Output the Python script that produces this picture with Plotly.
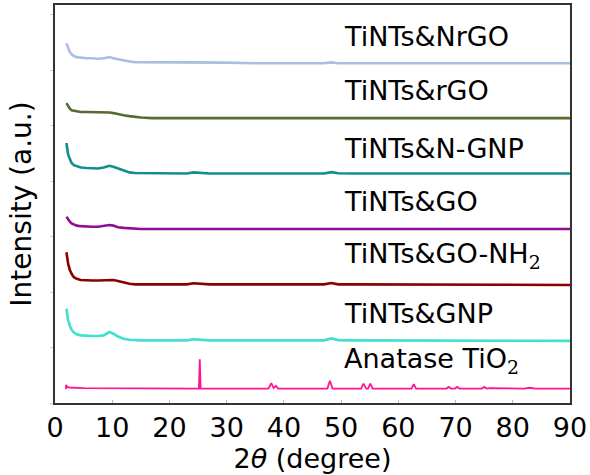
import plotly.graph_objects as go

# Shared 2-theta grid (degrees) for the TiNTs composite patterns
two_theta = [2.0, 2.3, 2.6, 2.9, 3.3, 3.8, 4.5, 5.5, 6.5, 7.5, 8.5, 9.5, 10.2, 11.0,
             12.0, 13.0, 14.0, 15.0, 17.0, 20.0, 23.0, 24.2, 25.5, 27.0, 30.0, 35.0,
             40.0, 45.0, 47.0, 48.3, 49.5, 52.0, 60.0, 70.0, 80.0, 90.0]

# Stacked intensities (a.u., offset per sample)
nrgo = [6.49, 6.40, 6.33, 6.29, 6.26, 6.24, 6.23, 6.22, 6.22, 6.21, 6.22, 6.24, 6.22, 6.20,
        6.18, 6.16, 6.15, 6.15, 6.14, 6.14, 6.14, 6.145, 6.14, 6.14, 6.14, 6.13,
        6.13, 6.13, 6.13, 6.145, 6.13, 6.13, 6.13, 6.13, 6.13, 6.13]
rgo = [5.41, 5.35, 5.31, 5.28, 5.27, 5.26, 5.25, 5.25, 5.25, 5.25, 5.245, 5.24, 5.23, 5.21,
       5.19, 5.175, 5.16, 5.15, 5.14, 5.14, 5.14, 5.145, 5.14, 5.14, 5.14, 5.14,
       5.14, 5.14, 5.14, 5.15, 5.14, 5.14, 5.14, 5.14, 5.14, 5.14]
n_gnp = [4.69, 4.48, 4.40, 4.33, 4.29, 4.27, 4.25, 4.24, 4.23, 4.23, 4.25, 4.28, 4.26, 4.23,
         4.19, 4.16, 4.15, 4.15, 4.14, 4.14, 4.14, 4.16, 4.145, 4.14, 4.14, 4.14,
         4.14, 4.14, 4.14, 4.165, 4.145, 4.14, 4.14, 4.14, 4.14, 4.14]
go_ = [3.36, 3.31, 3.27, 3.24, 3.22, 3.20, 3.19, 3.18, 3.18, 3.18, 3.19, 3.21, 3.20, 3.17,
       3.16, 3.15, 3.15, 3.14, 3.14, 3.14, 3.14, 3.145, 3.14, 3.14, 3.14, 3.14,
       3.14, 3.14, 3.14, 3.15, 3.14, 3.14, 3.14, 3.14, 3.14, 3.14]
go_nh2 = [2.72, 2.51, 2.40, 2.33, 2.27, 2.24, 2.22, 2.21, 2.21, 2.21, 2.21, 2.22, 2.22, 2.20,
          2.17, 2.15, 2.14, 2.14, 2.14, 2.14, 2.14, 2.16, 2.145, 2.14, 2.14, 2.14,
          2.14, 2.14, 2.14, 2.165, 2.14, 2.14, 2.14, 2.14, 2.13, 2.13]
gnp = [1.70, 1.49, 1.39, 1.32, 1.27, 1.24, 1.22, 1.21, 1.21, 1.21, 1.22, 1.28, 1.25, 1.20,
       1.16, 1.14, 1.13, 1.13, 1.13, 1.13, 1.13, 1.15, 1.135, 1.13, 1.13, 1.13,
       1.13, 1.13, 1.13, 1.165, 1.135, 1.13, 1.13, 1.13, 1.12, 1.12]

# Anatase TiO2 reference pattern
anatase_x = [1.9, 1.95, 2.1, 2.5, 5, 10, 15, 20, 25.15, 25.3, 25.45, 30,
             37.3, 37.8, 38.2, 38.6, 39.0, 47.6, 48.05, 48.5,
             53.5, 53.9, 54.4, 54.7, 55.1, 55.5, 62.3, 62.7, 63.1,
             68.4, 68.8, 69.2, 69.9, 70.3, 70.7, 74.6, 75.0, 75.4, 76.0,
             82.0, 82.9, 84.0, 90.0]
anatase_y = [0.25, 0.33, 0.29, 0.28, 0.27, 0.27, 0.265, 0.26, 0.26, 0.79, 0.26, 0.26,
             0.26, 0.36, 0.27, 0.31, 0.26, 0.26, 0.40, 0.26,
             0.26, 0.35, 0.26, 0.26, 0.35, 0.26, 0.26, 0.34, 0.26,
             0.26, 0.29, 0.26, 0.26, 0.29, 0.26, 0.26, 0.29, 0.26, 0.27,
             0.26, 0.275, 0.26, 0.26]

SUB2 = "<sub><span style=\"font-family:'DejaVu Serif'\">2</span></sub>"

names = ["TiNTs&NrGO", "TiNTs&rGO", "TiNTs&N-GNP", "TiNTs&GO",
         "TiNTs&GO-NH" + SUB2, "TiNTs&GNP"]
series = [nrgo, rgo, n_gnp, go_, go_nh2, gnp]
colors = ["#a9bfdf", "#556b2f", "#128f8c", "#8e0f94", "#8b0000", "#40e0d0"]
label_x = 50.1
label_y = [6.61, 5.64, 4.60, 3.64, 2.66, 1.62, 0.77]

fig = go.Figure()
for ys, c in zip(series, colors):
    fig.add_trace(go.Scatter(x=two_theta, y=ys, mode="lines",
                             line=dict(color=c, width=2.6), showlegend=False))
fig.add_trace(go.Scatter(x=anatase_x, y=anatase_y, mode="lines",
                         line=dict(color="#ff1493", width=1.8), showlegend=False))

font = "DejaVu Sans"
for text, yv in zip(names + ["Anatase TiO" + SUB2], label_y):
    fig.add_annotation(x=label_x, y=yv, xref="x", yref="y", text=text,
                       showarrow=False, xanchor="left", yanchor="middle",
                       font=dict(family=font, size=27, color="black"))

fig.update_layout(
    width=590, height=475,
    margin=dict(l=55, r=18, t=3, b=72),
    plot_bgcolor="white", paper_bgcolor="white",
    font=dict(family=font, size=27, color="black"),
)
fig.update_xaxes(range=[0, 90], tick0=0, dtick=10, showgrid=False, zeroline=False,
                 showline=True, mirror=True, linecolor="#333", linewidth=2,
                 ticks="inside", ticklen=3, tickcolor="#bbb", tickwidth=1,
                 tickfont=dict(family=font, size=27),
                 title=dict(text="2<i>θ</i> (degree)", font=dict(family=font, size=27),
                            standoff=2))
fig.update_yaxes(range=[0, 7.18], tick0=0, dtick=1, showgrid=False, zeroline=False,
                 showline=True, mirror=True, linecolor="#333", linewidth=2,
                 ticks="outside", ticklen=3, tickcolor="#ccc", tickwidth=1,
                 showticklabels=False,
                 title=dict(text="Intensity (a.u.)", font=dict(family=font, size=28),
                            standoff=10))

fig.write_html("out.html")
